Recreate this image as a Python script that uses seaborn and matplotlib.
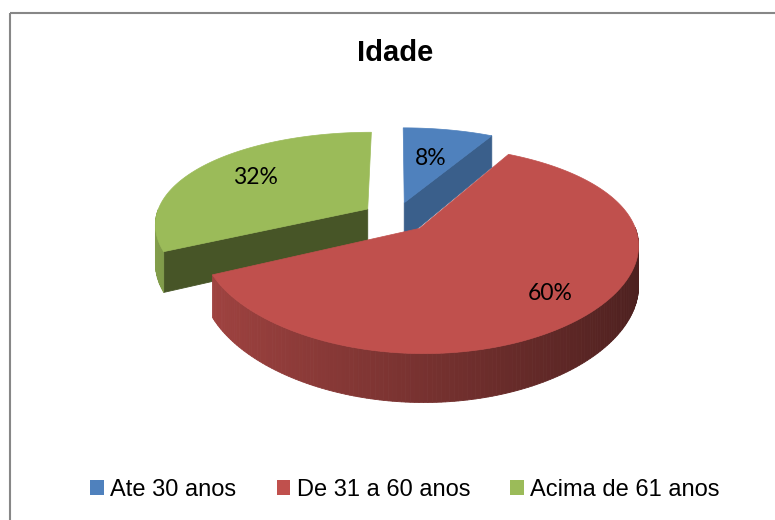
import numpy as np
import matplotlib
matplotlib.use('Agg')
import matplotlib.pyplot as plt
from matplotlib.patches import Polygon, Patch, Rectangle
import seaborn as sns

# data
categories = ['Ate 30 anos', 'De 31 a 60 anos', 'Acima de 61 anos']
shares = [8, 60, 32]
pct_labels = ['8%', '60%', '32%']
title = 'Idade'

# excel 2007 style colours: top face, flat cut face
top_colors = sns.color_palette(['#4F81BD', '#C0504D', '#9BBB59'])
cut_colors = sns.color_palette(['#3A5F8B', '#8E3A38', '#475527'])

sns.set_style('white')
plt.rcParams['font.family'] = ['Liberation Sans', 'DejaVu Sans']
plt.rcParams['text.color'] = 'black'

fig = plt.figure(figsize=(7.75, 5.2), dpi=100)
ax = fig.add_axes([0, 0, 1, 1])
ax.set_xlim(0, 775)
ax.set_ylim(520, 0)
ax.axis('off')

# chart area border (right and bottom sides fall outside the picture)
ax.add_patch(Rectangle((10, 13), 800, 600, fill=False, ec='#878787', lw=1.5))

# slice geometry comes from matplotlib's own pie, drawn on a scratch axes
tmp = fig.add_axes([0, 0, 0.1, 0.1])
wedges, _ = tmp.pie(shares, startangle=90, counterclock=False, explode=[0.16] * 3)
geom = [(w.center, w.theta1, w.theta2) for w in wedges]
tmp.remove()

# simple perspective projection of the pie plane (y = away from viewer)
cx, cy, rx, ry, depth = 396, 217, 212, 95, 38
persp_x, persp_y = 0.15, 0.2


def project(x, y, h=0.0):
    x, y, h = np.asarray(x), np.asarray(y), np.asarray(h)
    kx = 1.0 / (1.0 + persp_x * y)
    ky = 1.0 / (1.0 + persp_y * y)
    return cx + rx * x * kx, cy - ry * y * ky + depth * h * ky


# side faces first, back to front
sides = []
for (c, t1, t2), top, cut in zip(geom, top_colors, cut_colors):
    ang = np.linspace(t1, t2, int(abs(t2 - t1)) + 2)
    for a0, a1 in zip(ang[:-1], ang[1:]):
        am = np.radians((a0 + a1) / 2)
        if np.sin(am) >= 0:
            continue
        th = np.radians([a0, a1, a1, a0])
        px = c[0] + np.cos(th)
        py = c[1] + np.sin(th)
        X, Y = project(px, py, [0, 0, 1, 1])
        shade = 0.62 - 0.23 * np.cos(am)
        col = np.clip(np.array(top) * shade, 0, 1)
        sides.append((py.mean(), np.column_stack([X, Y]), col))
    for t, nrm in ((t1, t1 - 90), (t2, t2 + 90)):
        if np.sin(np.radians(nrm)) > -0.05:
            continue
        th = np.radians(t)
        px = c[0] + np.array([0, np.cos(th), np.cos(th), 0])
        py = c[1] + np.array([0, np.sin(th), np.sin(th), 0])
        X, Y = project(px, py, [0, 0, 1, 1])
        sides.append((py.mean(), np.column_stack([X, Y]), cut))

for _, xy, col in sorted(sides, key=lambda s: -s[0]):
    ax.add_patch(Polygon(xy, closed=True, fc=col, ec=col, lw=0.6))

# top faces
for (c, t1, t2), top in zip(geom, top_colors):
    th = np.radians(np.linspace(t1, t2, 200))
    px = np.r_[c[0], c[0] + np.cos(th)]
    py = np.r_[c[1], c[1] + np.sin(th)]
    X, Y = project(px, py)
    ax.add_patch(Polygon(np.column_stack([X, Y]), closed=True, fc=top, ec=top, lw=0.5))

# percentage labels
label_r = [0.57, 0.79, 0.68]
for (c, t1, t2), lab, r in zip(geom, pct_labels, label_r):
    tm = np.radians((t1 + t2) / 2)
    X, Y = project(c[0] + r * np.cos(tm), c[1] + r * np.sin(tm))
    ax.text(X, Y, lab, ha='center', va='center', fontsize=16.5,
            family=['Lato', 'DejaVu Sans'], color='black')

ax.text(395, 61, title, ha='center', va='baseline', fontsize=21,
        fontweight='bold', color='black')

handles = [Patch(facecolor=col, edgecolor='none', label=lab) for col, lab in zip(top_colors, categories)]
ax.legend(handles=handles, loc='center', bbox_to_anchor=(405 / 775, 1 - 490 / 520),
          bbox_transform=fig.transFigure, ncol=3, frameon=False, fontsize=17,
          handlelength=0.58, handleheight=0.58, handletextpad=0.27, columnspacing=1.7,
          borderpad=0, labelcolor='black')

fig.savefig('out.png', dpi=100)
